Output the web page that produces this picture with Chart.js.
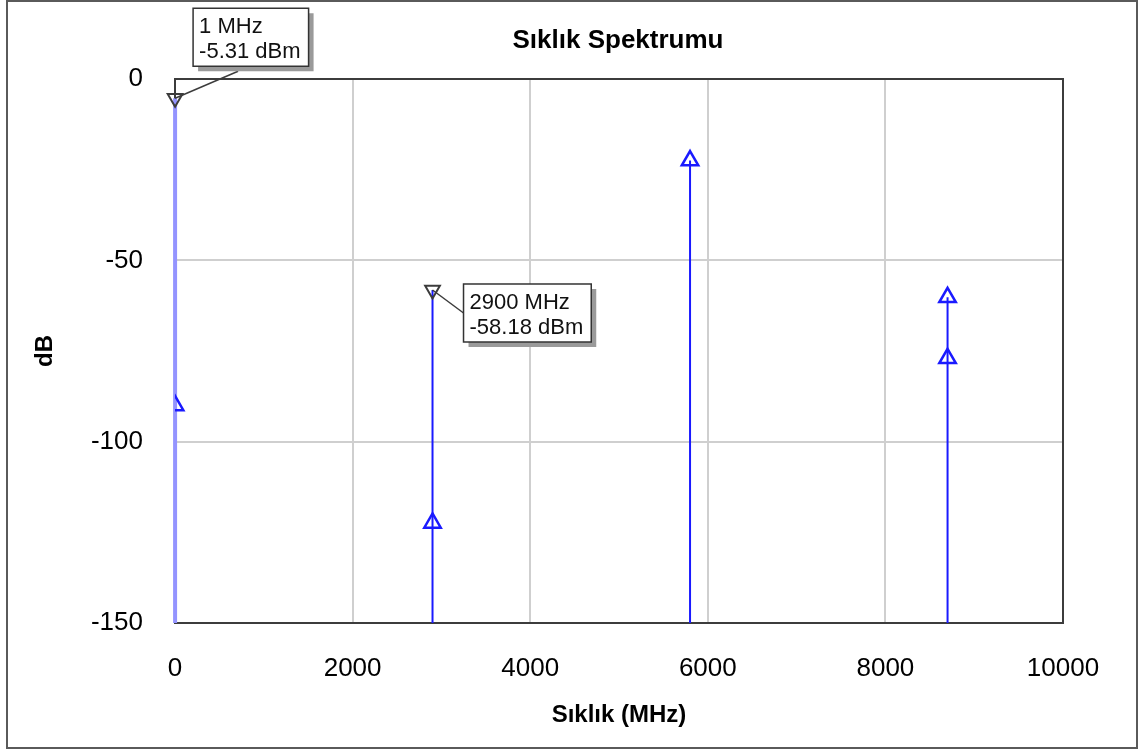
<!DOCTYPE html>
<html>
<head>
<meta charset="utf-8">
<script src="https://cdn.jsdelivr.net/npm/chart.js"></script>
<style>
  body { margin: 0; background: #fff; }
  #wrap { width: 1139px; height: 750px; position: relative; }
</style>
</head>
<body>
<div id="wrap"><canvas id="grafico"></canvas></div>
<script>
// spectrum values
const stemFreqs = [1, 2900, 5800, 8700];
const stemTops = [-5.31, -58.18, -22.5, -60.2];
const harmFreqs = [1, 2900, 5800, 8700, 8700];
const harmLevels = [-90, -122.4, -22.5, -60.2, -77];
const markerFreqs = [1, 2900];
const markerLevels = [-5.31, -58.18];
const floorLevel = -150;

const xMin = 0, xMax = 10000, xStep = 2000;
const yMin = -150, yMax = 0, yStep = 50;

const titulo = 'Sıklık Spektrumu';
const tituloX = 'Sıklık (MHz)';
const tituloY = 'dB';

const azul = '#1a1aff';
const azulClaro = '#9494ff';
const cinzaEscuro = '#3c3c3c';

// stems: floor -> top, separated by null
const stemData = [];
stemFreqs.forEach((f, i) => {
    stemData.push({x: f, y: floorLevel});
    stemData.push({x: f, y: stemTops[i]});
    stemData.push({x: f, y: null});
});

const harmData = harmFreqs.map((f, i) => ({x: f, y: harmLevels[i]}));
const markerData = markerFreqs.map((f, i) => ({x: f, y: markerLevels[i]}));

// frame, plot border, title and marker boxes
const moldura = {
    id: 'moldura',
    beforeDraw(chart) {
        const ctx = chart.ctx;
        ctx.save();
        ctx.fillStyle = '#fff';
        ctx.fillRect(0, 0, chart.width, chart.height);
        ctx.strokeStyle = '#5a5a5a';
        ctx.lineWidth = 2;
        ctx.strokeRect(7, 1, chart.width - 9, chart.height - 3);
        ctx.restore();
    },
    afterDraw(chart) {
        const ctx = chart.ctx;
        const a = chart.chartArea;
        ctx.save();
        ctx.strokeStyle = cinzaEscuro;
        ctx.lineWidth = 2;
        ctx.beginPath();
        ctx.moveTo(a.left, a.top);
        ctx.lineTo(a.right, a.top);
        ctx.lineTo(a.right, a.bottom);
        ctx.stroke();

        ctx.fillStyle = '#000';
        ctx.font = 'bold 26px "Liberation Sans", Arial, sans-serif';
        ctx.textAlign = 'center';
        ctx.textBaseline = 'middle';
        ctx.fillText(titulo, (a.left + a.right) / 2 - 1, 41);

        // marker annotation boxes
        const xs = chart.scales.x, ys = chart.scales.y;
        const offs = [{dx: 18, dy: -90, lx: 63}, {dx: 31, dy: -6, lx: 0}];
        ctx.font = '22px "Liberation Sans", Arial, sans-serif';
        ctx.textAlign = 'left';
        ctx.textBaseline = 'alphabetic';
        markerFreqs.forEach((f, i) => {
            const px = xs.getPixelForValue(f);
            const py = ys.getPixelForValue(markerLevels[i]);
            const l1 = f + ' MHz';
            const l2 = markerLevels[i].toFixed(2) + ' dBm';
            const w = Math.max(ctx.measureText(l1).width, ctx.measureText(l2).width) + 14;
            const h = 58;
            const bx = px + offs[i].dx, by = py + offs[i].dy;
            // leader
            ctx.strokeStyle = cinzaEscuro;
            ctx.lineWidth = 1.5;
            ctx.beginPath();
            ctx.moveTo(px, py);
            if (offs[i].lx) ctx.lineTo(px + offs[i].lx, by + h + 5);
            else ctx.lineTo(bx, by + h / 2);
            ctx.stroke();
            // shadow
            ctx.fillStyle = '#9a9a9a';
            ctx.fillRect(bx + 5, by + 5, w, h);
            ctx.fillStyle = '#fff';
            ctx.fillRect(bx, by, w, h);
            ctx.strokeStyle = '#333';
            ctx.lineWidth = 1.5;
            ctx.strokeRect(bx, by, w, h);
            ctx.fillStyle = '#111';
            ctx.fillText(l1, bx + 6, by + 25);
            ctx.fillText(l2, bx + 6, by + 50);
        });
        ctx.restore();
    }
};

const fonteTick = {family: '"Liberation Sans", Arial, sans-serif', size: 26};
const fonteTitulo = {family: '"Liberation Sans", Arial, sans-serif', size: 24, weight: 'bold'};

new Chart(document.getElementById('grafico'), {
    type: 'scatter',
    data: {
        datasets: [
            {
                type: 'line',
                data: stemData,
                borderColor: azul,
                borderWidth: 2,
                pointRadius: 0,
                spanGaps: false,
                clip: false,
                segment: {
                    borderColor: c => c.p0.parsed.x === stemFreqs[0] ? azulClaro : azul,
                    borderWidth: c => c.p0.parsed.x === stemFreqs[0] ? 4 : 2
                },
                order: 3
            },
            {
                data: harmData,
                pointStyle: 'triangle',
                pointRadius: 9.5,
                pointBorderWidth: 2.5,
                borderColor: azul,
                backgroundColor: 'rgba(255,255,255,0)',
                order: 2
            },
            {
                data: markerData,
                pointStyle: 'triangle',
                rotation: 180,
                pointRadius: 8.5,
                pointBorderWidth: 2,
                borderColor: cinzaEscuro,
                backgroundColor: 'rgba(255,255,255,0)',
                clip: false,
                order: 1
            }
        ]
    },
    options: {
        responsive: true,
        maintainAspectRatio: false,
        animation: false,
        layout: {padding: {top: 79, right: 76, left: 0, bottom: 0}},
        plugins: {
            legend: {display: false},
            tooltip: {enabled: false}
        },
        scales: {
            x: {
                type: 'linear',
                min: xMin, max: xMax,
                ticks: {stepSize: xStep, color: '#000', font: fonteTick, padding: 30,
                        maxRotation: 0, callback: v => String(v)},
                grid: {color: '#cfcfcf', lineWidth: 2, drawTicks: false},
                border: {display: true, color: cinzaEscuro, width: 2},
                title: {display: true, text: tituloX, color: '#000', font: fonteTitulo,
                        padding: {top: 0, bottom: 20}},
                afterFit: s => { s.height = 127; }
            },
            y: {
                type: 'linear',
                min: yMin, max: yMax,
                ticks: {stepSize: yStep, color: '#000', font: fonteTick, padding: 32},
                grid: {color: '#cfcfcf', lineWidth: 2, drawTicks: false},
                border: {display: true, color: cinzaEscuro, width: 2},
                title: {display: true, text: tituloY, color: '#000', font: fonteTitulo,
                        padding: {top: 31, bottom: 0}},
                afterFit: s => { s.width = 175; }
            }
        }
    },
    plugins: [moldura]
});
</script>
</body>
</html>
